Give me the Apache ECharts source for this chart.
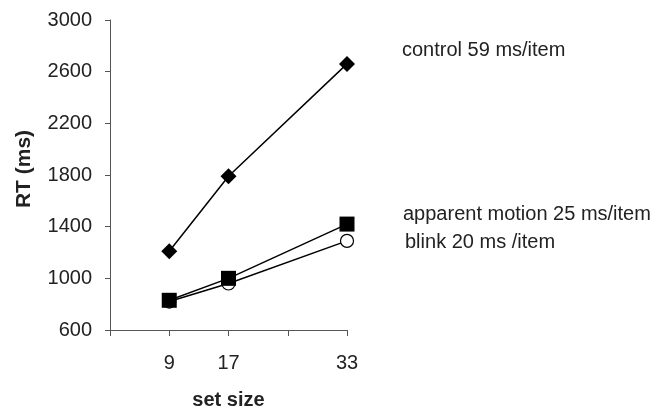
<!DOCTYPE html>
<html><head><meta charset="utf-8">
<script src="https://cdn.jsdelivr.net/npm/echarts@6/dist/echarts.min.js"></script>
<style>html,body{margin:0;padding:0;background:#fff}#c{width:668px;height:409px}</style>
</head><body><div id="c"></div>
<script>
const setSizes = [9, 17, 33];
const control = [1210, 1790, 2660];
const apparentMotion = [830, 1000, 1420];
const blink = [820, 960, 1290];
const xTickLabels = [9, 17, 33];
const labels = ['control 59 ms/item', 'apparent motion 25 ms/item', 'blink 20 ms /item'];

const font = 'Liberation Sans, Arial, sans-serif';
const pts = a => setSizes.map((x, i) => [x, a[i]]);
const chart = echarts.init(document.getElementById('c'));
chart.setOption({
  animation: false,
  grid: {left: 110, top: 20, right: 321, bottom: 79, outerBoundsMode: 'none', containLabel: false},
  xAxis: {
    type: 'value', min: 1, max: 33, interval: 8,
    name: 'set size', nameLocation: 'middle', nameGap: 60,
    nameTextStyle: {fontFamily: font, fontSize: 20, fontWeight: 'bold', color: '#222'},
    axisLine: {lineStyle: {color: '#555', width: 1}},
    axisTick: {show: true, length: 6, lineStyle: {color: '#555'}},
    axisLabel: {margin: 23, fontFamily: font, fontSize: 20, color: '#222',
      formatter: v => xTickLabels.includes(v) ? String(v) : ''},
    splitLine: {show: false}
  },
  yAxis: {
    type: 'value', min: 600, max: 3000, interval: 400,
    name: 'RT (ms)', nameLocation: 'middle', nameGap: 75, nameRotate: 90,
    nameTextStyle: {fontFamily: font, fontSize: 21, fontWeight: 'bold', color: '#222', padding: [0, 0, 0, 12]},
    axisLine: {show: true, lineStyle: {color: '#555', width: 1}},
    axisTick: {show: true, length: 5, lineStyle: {color: '#555'}},
    axisLabel: {margin: 18, fontFamily: font, fontSize: 20, color: '#222', formatter: v => String(v)},
    splitLine: {show: false}
  },
  series: [
    {type: 'line', data: pts(control), symbol: 'diamond', symbolSize: [16, 16],
     lineStyle: {color: '#000', width: 1.5}, itemStyle: {color: '#000'}},
    {type: 'line', data: pts(blink), symbol: 'circle', symbolSize: 13,
     lineStyle: {color: '#000', width: 1.5}, itemStyle: {color: '#fff', borderColor: '#000', borderWidth: 1.2}},
    {type: 'line', data: pts(apparentMotion), symbol: 'rect', symbolSize: 15,
     lineStyle: {color: '#000', width: 1.5}, itemStyle: {color: '#000'}}
  ],
  graphic: [
    {type: 'text', x: 402, y: 50, style: {text: labels[0], font: '20px ' + font, fill: '#222', verticalAlign: 'middle'}},
    {type: 'text', x: 403, y: 214, style: {text: labels[1], font: '20px ' + font, fill: '#222', verticalAlign: 'middle'}},
    {type: 'text', x: 405, y: 242, style: {text: labels[2], font: '20px ' + font, fill: '#222', verticalAlign: 'middle'}}
  ]
});
</script></body></html>
